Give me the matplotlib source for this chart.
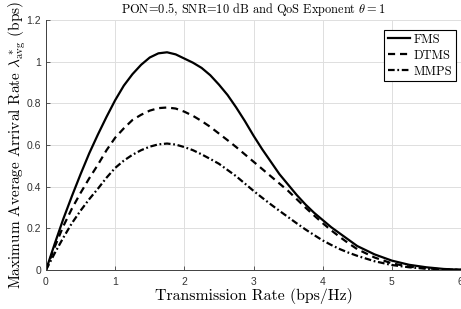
import numpy as np
import matplotlib
matplotlib.use('Agg')
import matplotlib.pyplot as plt
from matplotlib.ticker import FuncFormatter

plt.rcParams['mathtext.fontset'] = 'cm'
plt.rcParams['axes.formatter.use_mathtext'] = True

# transmission rate (bps/Hz)
rate = [0, 0.125, 0.25, 0.375, 0.5, 0.625, 0.75, 0.875, 1.0, 1.125, 1.25, 1.375,
        1.5, 1.625, 1.75, 1.875, 2.0, 2.125, 2.25, 2.375, 2.5, 2.625, 2.75, 2.875,
        3.0, 3.125, 3.25, 3.375, 3.5, 3.625, 3.75, 3.875, 4.0, 4.125, 4.25, 4.375,
        4.5, 4.75, 5.0, 5.25, 5.5, 5.75, 6.0]

# maximum average arrival rate (bps)
fms = [0, 0.125, 0.245, 0.355, 0.46, 0.56, 0.65, 0.735, 0.815, 0.885, 0.94, 0.985,
       1.02, 1.04, 1.045, 1.035, 1.015, 0.995, 0.97, 0.935, 0.89, 0.84, 0.78, 0.715,
       0.645, 0.58, 0.52, 0.46, 0.41, 0.36, 0.315, 0.275, 0.24, 0.205, 0.175, 0.145,
       0.115, 0.075, 0.045, 0.025, 0.013, 0.005, 0.001]
dtms = [0, 0.11, 0.21, 0.295, 0.37, 0.44, 0.505, 0.575, 0.635, 0.68, 0.72, 0.745,
        0.765, 0.777, 0.78, 0.775, 0.76, 0.74, 0.715, 0.687, 0.655, 0.623, 0.59, 0.555,
        0.52, 0.485, 0.45, 0.415, 0.38, 0.34, 0.30, 0.262, 0.225, 0.19, 0.158, 0.128,
        0.10, 0.06, 0.032, 0.016, 0.008, 0.003, 0.001]
mmps = [0, 0.08, 0.155, 0.225, 0.285, 0.34, 0.39, 0.443, 0.49, 0.525, 0.553, 0.575,
        0.592, 0.603, 0.607, 0.602, 0.59, 0.575, 0.555, 0.533, 0.51, 0.48, 0.45, 0.415,
        0.38, 0.347, 0.315, 0.284, 0.254, 0.224, 0.195, 0.168, 0.142, 0.12, 0.10, 0.083,
        0.068, 0.042, 0.024, 0.013, 0.006, 0.002, 0.0005]

xticks = [0, 1, 2, 3, 4, 5, 6]
yticks = [0, 0.2, 0.4, 0.6, 0.8, 1.0, 1.2]

fig = plt.figure(figsize=(4.61, 3.09), dpi=100)
ax = fig.add_axes([46/461, 1 - 270/309, 415/461, 250/309])

ax.plot(rate, fms, color='black', lw=1.6, ls='-', label='FMS')
ax.plot(rate, dtms, color='black', lw=1.6, ls=(0, (3.2, 2.2)), label='DTMS')
ax.plot(rate, mmps, color='black', lw=1.6, ls=(0, (3.0, 1.2, 0.8, 1.2)), label='MMPS')

ax.set_xlim(0, 6)
ax.set_ylim(0, 1.2)
ax.set_xticks(xticks)
ax.set_yticks(yticks)
ax.yaxis.set_major_formatter(FuncFormatter(lambda v, p: '{:g}'.format(v)))
ax.tick_params(direction='in', length=3, width=0.6, colors='#404040',
               labelsize=7.5, labelcolor='#333333')
for lab in ax.get_xticklabels() + ax.get_yticklabels():
    lab.set_fontfamily('Liberation Sans')

ax.grid(True, color='#dedede', lw=0.7)
ax.set_axisbelow(True)
for s in ['top', 'right']:
    ax.spines[s].set_visible(False)
for s in ['left', 'bottom']:
    ax.spines[s].set_color('#404040')
    ax.spines[s].set_linewidth(0.7)

ax.set_title(r'PON=0.5, SNR=10 dB and QoS Exponent $\theta = 1$',
             fontfamily='cmr10', fontsize=8.9, pad=5)
ax.set_xlabel('Transmission Rate (bps/Hz)', fontfamily='cmr10', fontsize=11.4, labelpad=1)
ax.set_ylabel(r'Maximum Average Arrival Rate $\lambda^*_{\mathrm{avg}}$ (bps)',
              fontfamily='cmr10', fontsize=11, labelpad=-1)

leg = ax.legend(loc='upper right', bbox_to_anchor=(0.988, 0.96), prop={'family': 'cmr10', 'size': 9},
                handlelength=1.75, handletextpad=0.3, labelspacing=0.3, borderpad=0.3,
                borderaxespad=0, fancybox=False, framealpha=1, edgecolor='black')
leg.get_frame().set_linewidth(0.8)

fig.savefig('out.png', dpi=100)
